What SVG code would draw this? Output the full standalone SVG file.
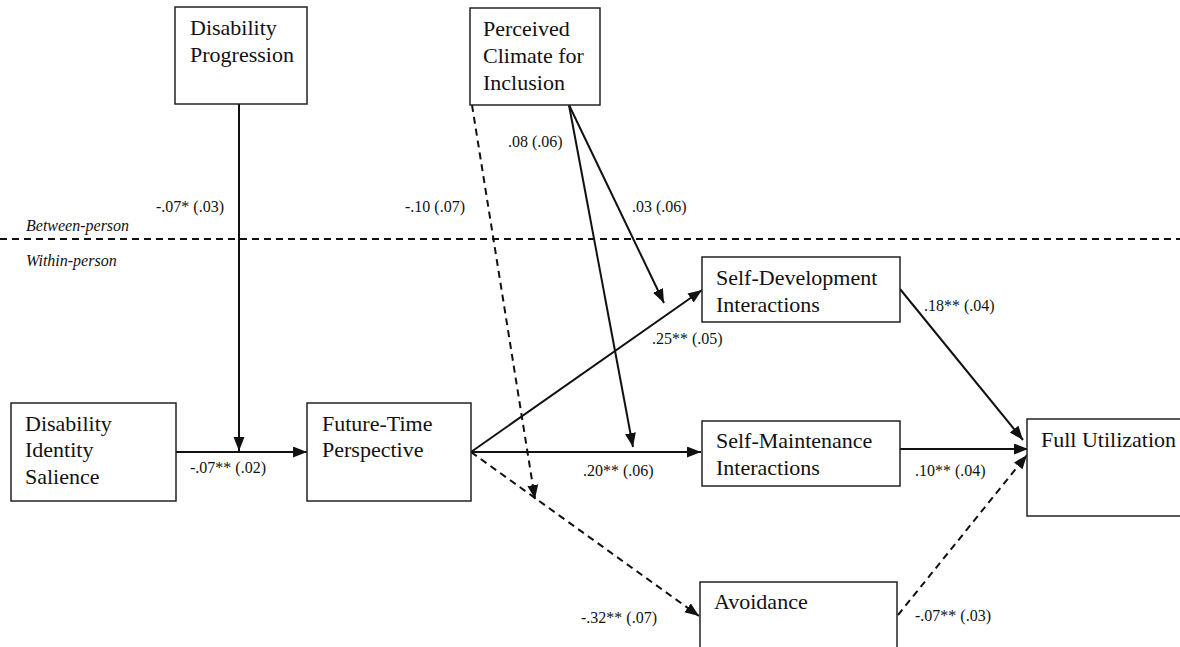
<svg xmlns="http://www.w3.org/2000/svg" width="1180" height="647" viewBox="0 0 1180 647">
<defs>
<marker id="ah" markerUnits="userSpaceOnUse" markerWidth="15" markerHeight="12" refX="14" refY="5.5" orient="auto">
<path d="M0,0 L14,5.5 L0,11 z" fill="#111"/>
</marker>
<style>
.box{fill:#fff;stroke:#222;stroke-width:1.5}
.nt{font-family:"Liberation Serif","Times New Roman",serif;font-size:22px;fill:#111}
.lb{font-family:"Liberation Serif","Times New Roman",serif;font-size:16px;fill:#111}
.it{font-family:"Liberation Serif","Times New Roman",serif;font-size:16px;font-style:italic;fill:#111}
.ln{fill:none;stroke:#111;stroke-width:2}
.da{stroke-dasharray:7,5}
</style>
</defs>
<rect width="1180" height="647" fill="#fff"/>
<g id="divider">
<line x1="0" y1="239" x2="1180" y2="239" class="ln da" stroke-width="1.3"/>
<text class="it" x="26" y="231">Between-person</text>
<text class="it" x="26" y="266">Within-person</text>
</g>
<g id="connectors">
<line class="ln" x1="239" y1="104" x2="239" y2="451" marker-end="url(#ah)"/>
<line class="ln" x1="176" y1="452" x2="307" y2="452" marker-end="url(#ah)"/>
<line class="ln" x1="471" y1="452" x2="702" y2="290" marker-end="url(#ah)"/>
<line class="ln" x1="471" y1="452" x2="701" y2="452" marker-end="url(#ah)"/>
<line class="ln da" x1="471" y1="452" x2="699" y2="616" marker-end="url(#ah)"/>
<line class="ln da" x1="472" y1="105" x2="535" y2="499" marker-end="url(#ah)"/>
<line class="ln" x1="569" y1="105" x2="664" y2="303" marker-end="url(#ah)"/>
<line class="ln" x1="569" y1="105" x2="633" y2="447" marker-end="url(#ah)"/>
<line class="ln" x1="900" y1="289" x2="1023" y2="440" marker-end="url(#ah)"/>
<line class="ln" x1="900" y1="449" x2="1028" y2="449" marker-end="url(#ah)"/>
<line class="ln da" x1="898" y1="615" x2="1027" y2="455" marker-end="url(#ah)"/>
<text class="lb" x="156" y="212">-.07* (.03)</text>
<text class="lb" x="405" y="212">-.10 (.07)</text>
<text class="lb" x="508" y="147">.08 (.06)</text>
<text class="lb" x="632" y="212">.03 (.06)</text>
<text class="lb" x="190" y="473">-.07** (.02)</text>
<text class="lb" x="652" y="344">.25** (.05)</text>
<text class="lb" x="583" y="476">.20** (.06)</text>
<text class="lb" x="581" y="623">-.32** (.07)</text>
<text class="lb" x="924" y="311">.18** (.04)</text>
<text class="lb" x="915" y="476">.10** (.04)</text>
<text class="lb" x="915" y="621">-.07** (.03)</text>
</g>
<g id="disability-progression">
<rect class="box" x="175" y="7" width="132" height="97"/>
<text class="nt" x="190" y="35">Disability</text>
<text class="nt" x="190" y="62">Progression</text>
</g>
<g id="perceived-climate">
<rect class="box" x="470" y="8" width="130" height="97"/>
<text class="nt" x="483" y="36">Perceived</text>
<text class="nt" x="483" y="63">Climate for</text>
<text class="nt" x="483" y="90">Inclusion</text>
</g>
<g id="disability-identity-salience">
<rect class="box" x="11" y="403" width="165" height="98"/>
<text class="nt" x="25" y="431">Disability</text>
<text class="nt" x="25" y="457">Identity</text>
<text class="nt" x="25" y="484">Salience</text>
</g>
<g id="future-time-perspective">
<rect class="box" x="307" y="403" width="164" height="98"/>
<text class="nt" x="322" y="431">Future-Time</text>
<text class="nt" x="322" y="457">Perspective</text>
</g>
<g id="self-development">
<rect class="box" x="702" y="257" width="198" height="65"/>
<text class="nt" x="716" y="285">Self-Development</text>
<text class="nt" x="716" y="312">Interactions</text>
</g>
<g id="self-maintenance">
<rect class="box" x="702" y="421" width="198" height="65"/>
<text class="nt" x="716" y="448">Self-Maintenance</text>
<text class="nt" x="716" y="475">Interactions</text>
</g>
<g id="avoidance">
<rect class="box" x="700" y="582" width="197" height="80"/>
<text class="nt" x="714" y="609">Avoidance</text>
</g>
<g id="full-utilization">
<rect class="box" x="1027" y="419" width="170" height="97"/>
<text class="nt" x="1041" y="447">Full Utilization</text>
</g>
</svg>
